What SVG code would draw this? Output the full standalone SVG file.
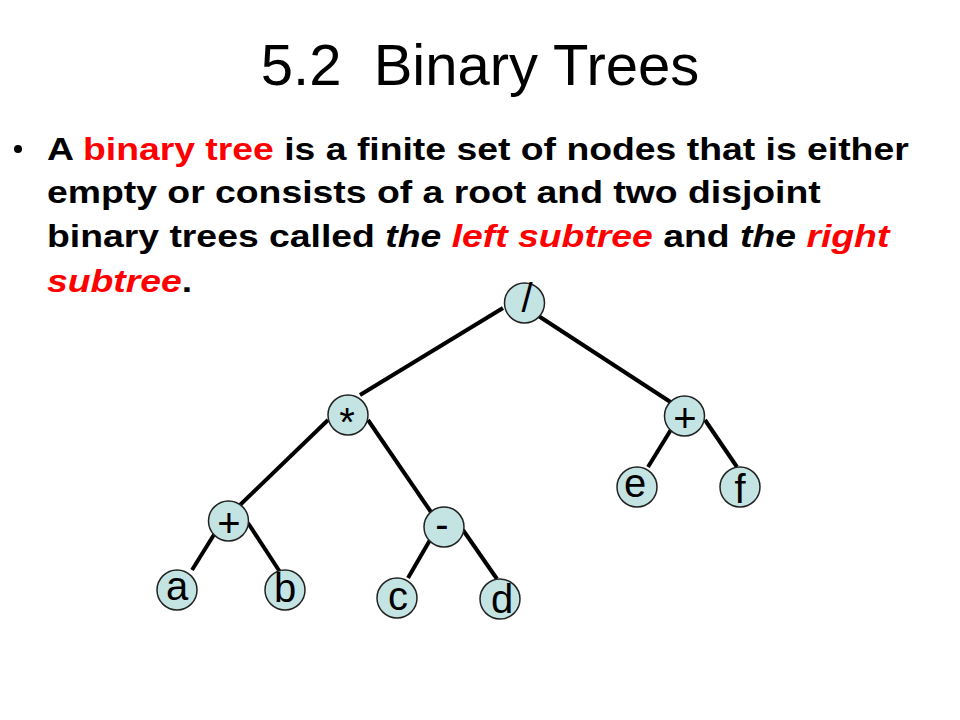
<svg xmlns="http://www.w3.org/2000/svg" width="960" height="720" viewBox="0 0 960 720">
  <style>
    .title { font-family: "Liberation Sans", Arial, sans-serif; font-size: 58px; fill: #000; white-space: pre; }
    .body { font-family: "Liberation Sans", Arial, sans-serif; font-size: 32px; font-weight: bold; fill: #000; white-space: pre; }
    .red { fill: #ff0000; }
    .it { font-style: italic; }
    .node circle { fill: #c4e4e4; stroke: #222; stroke-width: 1.5; }
    .node text { font-family: "Liberation Sans", Arial, sans-serif; font-size: 40px; fill: #000; text-anchor: middle; }
    .edges line { stroke: #000; stroke-width: 4; }
  </style>
  <rect width="960" height="720" fill="#fff"/>

  <text class="title" x="480" y="85" text-anchor="middle">5.2  Binary Trees</text>

  <!-- bullet paragraph (text set slightly wide) -->
  <circle cx="18" cy="149" r="4" fill="#000"/>
  <g transform="translate(47,0) scale(1.167,1)">
    <text class="body" x="0" y="160">A <tspan class="red">binary tree</tspan> is a finite set of nodes that is either</text>
    <text class="body" x="0" y="203">empty or consists of a root and two disjoint</text>
    <text class="body" x="0" y="247">binary trees called <tspan class="it">the </tspan><tspan class="it red">left subtree</tspan> and <tspan class="it">the </tspan><tspan class="it red">right</tspan></text>
    <text class="body" x="0" y="292"><tspan class="it red">subtree</tspan>.</text>
  </g>

  <!-- connectors -->
  <g class="edges">
    <line x1="503" y1="308" x2="360" y2="395"/>
    <line x1="537" y1="315" x2="672" y2="403"/>
    <line x1="328" y1="420" x2="240" y2="505"/>
    <line x1="368" y1="420" x2="431" y2="512"/>
    <line x1="672" y1="428" x2="648" y2="467"/>
    <line x1="705" y1="420" x2="737" y2="467"/>
    <line x1="215" y1="533" x2="192" y2="570"/>
    <line x1="248" y1="523" x2="280" y2="572"/>
    <line x1="430" y1="540" x2="408" y2="578"/>
    <line x1="463" y1="530" x2="497" y2="579"/>
  </g>

  <!-- nodes -->
  <g id="node-div" class="node"><circle cx="524.5" cy="303" r="20"/><text x="527" y="312">/</text></g>
  <g id="node-mul" class="node"><circle cx="348" cy="415" r="20"/><text x="347" y="436">*</text></g>
  <g id="node-plus-r" class="node"><circle cx="684.5" cy="416" r="20"/><text x="685" y="432">+</text></g>
  <g id="node-e" class="node"><circle cx="637" cy="487" r="20"/><text x="635" y="497">e</text></g>
  <g id="node-f" class="node"><circle cx="740" cy="487" r="20"/><text x="740" y="503">f</text></g>
  <g id="node-plus-l" class="node"><circle cx="228.5" cy="521" r="20"/><text x="229" y="537">+</text></g>
  <g id="node-minus" class="node"><circle cx="444" cy="527" r="20"/><text x="442" y="538">-</text></g>
  <g id="node-a" class="node"><circle cx="177" cy="590" r="20"/><text x="177" y="600">a</text></g>
  <g id="node-b" class="node"><circle cx="285" cy="590" r="20"/><text x="285" y="602">b</text></g>
  <g id="node-c" class="node"><circle cx="397" cy="598" r="20"/><text x="398" y="610">c</text></g>
  <g id="node-d" class="node"><circle cx="500" cy="599" r="20"/><text x="502" y="613">d</text></g>
</svg>
